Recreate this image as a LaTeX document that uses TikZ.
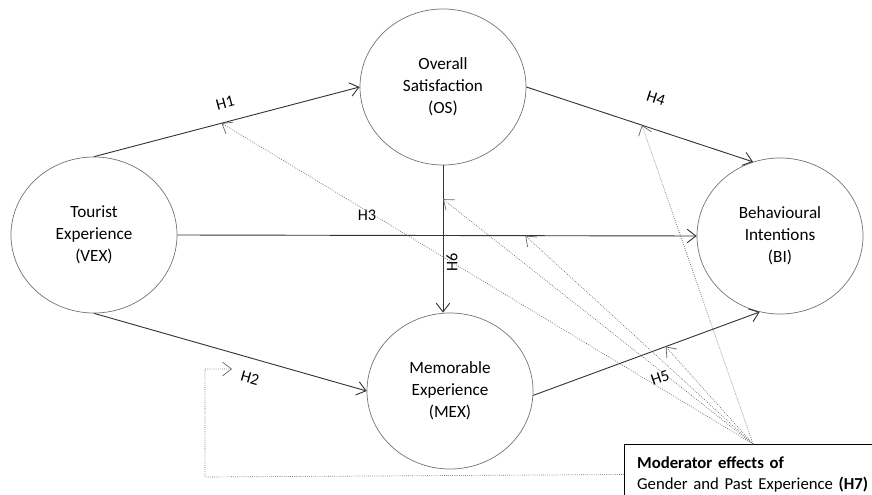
\documentclass[tikz,border=0pt]{standalone}
\usepackage{fontspec}
\setmainfont{Carlito}
\usepackage{tikz}
\usetikzlibrary{shapes,arrows.meta}
\tikzstyle{construct} = [ellipse, draw=black!55, line width=0.5pt,
                     align=center, minimum width=4.15cm,
                     minimum height=3.9cm, font=\fontsize{12.2}{15.6}\selectfont]
\tikzstyle{hyp} = [draw=black!80, line width=0.65pt,
                     -{Straight Barb[length=2.2mm,width=3.4mm]}]
\tikzstyle{moderate} = [draw=black!60, densely dotted, line width=0.5pt,
                     -{Straight Barb[length=2.2mm,width=3.4mm]}]

\begin{document}
\begin{tikzpicture}[
hlabel/.style={font=\fontsize{11.5}{13}\selectfont, inner sep=1pt},
modbox/.style={rectangle, draw=black, line width=0.7pt, fill=white, anchor=north west,
  align=left, text width=6.4cm, minimum height=1.5cm, inner xsep=9pt,
  font=\fontsize{11.9}{15}\selectfont}]
\useasboundingbox (0,0) rectangle (21.8,12.35);

%Constructs
\node[construct] at (2.35,6.475) (VEX){Tourist\\Experience\\(VEX)};
\node[construct] at (11.075,10.175) (OS){Overall\\Satisfaction\\(OS)};
\node[construct] at (11.25,2.575) (MEX){Memorable\\Experience\\(MEX)};
\node[construct] at (19.5,6.45) (BI){Behavioural\\Intentions\\(BI)};

% Hypotheses
\draw[hyp] (VEX.north) -- coordinate[pos=0.48] (onH1) (OS.west);
\draw[hyp] (VEX.south) -- (MEX.west);
\draw[hyp] (VEX.east) -- coordinate[pos=0.67] (onH3) (BI.west);
\draw[hyp] (OS.east) -- coordinate[pos=0.51] (onH4) (BI.110);
\draw[hyp] (MEX.-3) -- coordinate[pos=0.585] (onH5) (BI.255);
\draw[hyp] (OS.south) -- coordinate[pos=0.23] (onH6) (OS.south |- MEX.north);

\node[hlabel, rotate=15] at (5.625,9.775) (lH1){H1};
\node[hlabel, rotate=-16] at (6.25,2.9) (lH2){H2};
\node[hlabel] at (9.175,6.975) (lH3){H3};
\node[hlabel, rotate=-18] at (16.4,9.9) (lH4){H4};
\node[hlabel, rotate=19] at (16.5,2.9) (lH5){H5};
\node[hlabel, rotate=90] at (11.3,5.8) (lH6){H6};

% Moderator
\node[modbox] at (15.6,1.25) (mod){\textbf{Moderator effects of}\\Gender and Past Experience \textbf{(H7)}};
\coordinate (hub) at (18.825,1.25);
\coordinate (h2corner) at (5.125,0.425);
\coordinate (h2tip) at (5.8,3.125);

\foreach \t in {onH1,onH3,onH4,onH5,onH6}
  \draw[moderate] (hub) -- (\t);
\draw[moderate] (mod.west) -- (h2corner) |- (h2tip);
\end{tikzpicture}
\end{document}
